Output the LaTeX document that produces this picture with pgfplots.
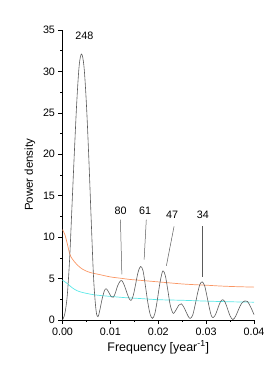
\documentclass[border=0pt]{standalone}
\usepackage{pgfplots}
\pgfplotsset{compat=1.18}
\usepackage{fontspec}
\setmainfont{Liberation Sans}
\definecolor{orng}{RGB}{250,150,100}
\definecolor{cyn}{RGB}{90,232,232}
\definecolor{crv}{RGB}{90,90,90}
\begin{document}
\begin{tikzpicture}
\path[use as bounding box] (-62.5bp,-50bp) rectangle (217.5bp,320bp);
\begin{axis}[
  at={(0,0)}, anchor=south west,
  scale only axis, width=191.5bp, height=290bp,
  xmin=0, xmax=0.04, ymin=0, ymax=35,
  axis x line*=bottom, axis y line*=left,
  axis line style={-, black, line width=0.6pt},
  tick align=outside,
  major tick length=4bp, minor tick length=2bp,
  tick style={black, line width=0.5pt},
  xtick={0,0.01,0.02,0.03,0.04}, minor x tick num=1,
  ytick={0,5,10,15,20,25,30,35}, minor y tick num=1,
  scaled x ticks=false,
  xticklabel style={/pgf/number format/.cd, fixed, fixed zerofill, precision=2},
  /pgf/number format/assume math mode=true,
  ticklabel style={font=\fontsize{10.8}{12}\selectfont},
  xlabel={Frequency [year\textsuperscript{-1}]},
  ylabel={Power density},
  xlabel style={font=\fontsize{12.5}{14}\selectfont, yshift=1bp},
  ylabel style={font=\fontsize{11.5}{13}\selectfont, yshift=1bp},
  clip=false,
]
\addplot[orng, line width=0.7pt, smooth] coordinates {
(0,10.9)(0.0005,10.3)(0.001,9.2)(0.0015,8.0)(0.002,7.4)(0.003,6.7)(0.004,6.2)
(0.005,5.9)(0.006,5.7)(0.008,5.45)(0.01,5.2)(0.012,5.05)(0.014,4.9)(0.016,4.8)
(0.018,4.7)(0.02,4.6)(0.022,4.5)(0.025,4.35)(0.028,4.25)(0.03,4.2)(0.033,4.1)
(0.036,4.03)(0.04,3.97)};
\addplot[cyn, line width=0.7pt, smooth] coordinates {
(0,4.8)(0.001,4.4)(0.002,3.9)(0.003,3.55)(0.004,3.35)(0.006,3.1)(0.008,2.95)
(0.01,2.85)(0.013,2.7)(0.016,2.6)(0.02,2.45)(0.025,2.38)(0.03,2.28)(0.035,2.2)(0.04,2.15)};
\addplot[crv, line width=0.6pt, smooth, tension=0.55] coordinates {
(0,0)(0.0005,0.8)(0.001,3)(0.0015,7.5)(0.002,14)(0.0025,20.5)(0.003,26.5)(0.0035,30.8)
(0.004,32.1)(0.0045,30.5)(0.005,26)(0.0055,19.5)(0.006,12)(0.0065,5)(0.007,1.2)
(0.0074,0.4)(0.0078,1.2)(0.0083,2.6)(0.0088,3.6)(0.0092,3.75)(0.0097,3.3)(0.0102,2.8)
(0.0106,2.75)(0.011,3.2)(0.0115,4.1)(0.012,4.65)(0.0124,4.75)(0.0129,4.2)(0.0135,3.2)
(0.014,2.5)(0.0144,2.4)(0.0148,3)(0.0153,4.4)(0.0158,5.8)(0.0163,6.45)(0.0168,6.0)
(0.0173,4.2)(0.0178,2.2)(0.0183,0.7)(0.0188,0.2)(0.0193,0.8)(0.0198,2.4)(0.0203,4.3)
(0.0208,5.7)(0.0211,5.9)(0.0215,5.3)(0.022,3.6)(0.0225,1.8)(0.023,0.9)(0.0233,0.85)
(0.0238,1.3)(0.0243,1.8)(0.0248,1.95)(0.0253,1.6)(0.0258,1.0)(0.0263,0.4)(0.0267,0.2)
(0.0272,0.6)(0.0277,1.8)(0.0282,3.2)(0.0287,4.3)(0.0292,4.6)(0.0297,4.1)(0.0302,2.8)
(0.0307,1.4)(0.0311,0.5)(0.0315,0.3)(0.032,0.7)(0.0325,1.5)(0.033,2.2)(0.0335,2.45)
(0.034,2.1)(0.0345,1.3)(0.035,0.5)(0.0356,0.05)(0.0362,0.5)(0.0368,1.3)(0.0374,2.0)
(0.0381,2.3)(0.0386,2.25)(0.0391,1.8)(0.0396,1.2)(0.04,0.65)};
% annotation leader lines
\addplot[crv, line width=0.5pt] coordinates {(0.0121,12.1)(0.0124,5.5)};
\addplot[crv, line width=0.5pt] coordinates {(0.0175,12.1)(0.01705,7.3)};
\addplot[crv, line width=0.5pt] coordinates {(0.0233,11.3)(0.0217,6.55)};
\addplot[crv, line width=0.5pt] coordinates {(0.0292,11.3)(0.0292,5.25)};
\node[font=\fontsize{10.8}{12}\selectfont] at (axis cs:0.00455,34.3) {248};
\node[font=\fontsize{10.8}{12}\selectfont] at (axis cs:0.01213,13.2) {80};
\node[font=\fontsize{10.8}{12}\selectfont] at (axis cs:0.01726,13.2) {61};
\node[font=\fontsize{10.8}{12}\selectfont] at (axis cs:0.0229,12.75) {47};
\node[font=\fontsize{10.8}{12}\selectfont] at (axis cs:0.0293,12.7) {34};
\end{axis}
\end{tikzpicture}
\end{document}
